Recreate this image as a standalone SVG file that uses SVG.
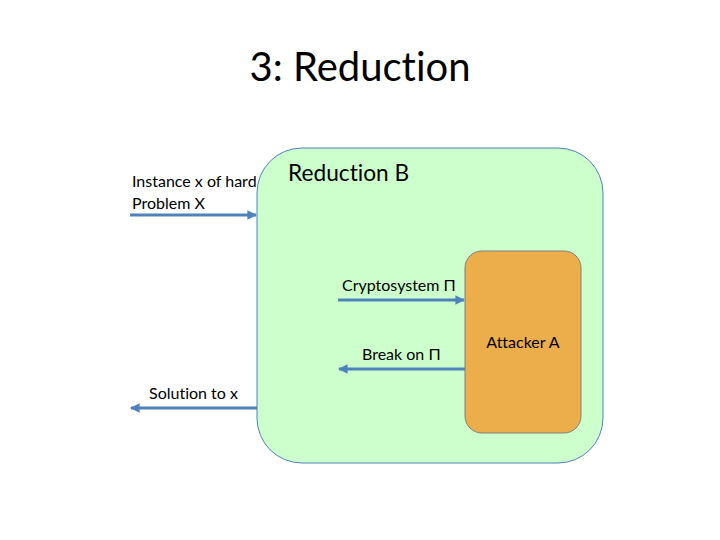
<svg xmlns="http://www.w3.org/2000/svg" width="720" height="540" viewBox="0 0 720 540">
<defs>
<style>
text{font-family:Lato,"Open Sans","Liberation Sans",sans-serif;fill:#000;font-variant-ligatures:none}
.lbl{font-size:16px}
.conn{stroke:#4F81BD;stroke-width:3;fill:none}
</style>
<marker id="ah" viewBox="0 0 10 10" refX="9" refY="5" markerWidth="3.2" markerHeight="3.2" orient="auto" markerUnits="strokeWidth">
<path d="M0,0 L10,5 L0,10 Z" fill="#4F81BD"/>
</marker>
</defs>
<rect width="720" height="540" fill="#fff"/>
<text x="360" y="81" font-size="40" text-anchor="middle">3: Reduction</text>
<g id="reduction">
<rect x="257" y="148" width="346" height="315" rx="45" ry="45" fill="#CCFFCC" stroke="#4F81BD" stroke-width="1"/>
<text x="288" y="181" font-size="22.7">Reduction B</text>
</g>
<g id="attacker">
<rect x="465" y="251" width="116" height="182" rx="17" ry="17" fill="#ECAE4B" stroke="#7F7F7F" stroke-width="1"/>
<text x="523" y="348" class="lbl" text-anchor="middle">Attacker A</text>
</g>
<g id="connectors">
<line class="conn" x1="130" y1="215" x2="256" y2="215" marker-end="url(#ah)"/>
<line class="conn" x1="338" y1="300" x2="464" y2="300" marker-end="url(#ah)"/>
<line class="conn" x1="465" y1="369" x2="339" y2="369" marker-end="url(#ah)"/>
<line class="conn" x1="257" y1="408" x2="131" y2="408" marker-end="url(#ah)"/>
</g>
<g id="labels">
<text x="132" y="187" class="lbl">Instance x of hard</text>
<text x="132" y="209" class="lbl">Problem X</text>
<text x="342" y="291" class="lbl">Cryptosystem Π</text>
<text x="362" y="360" class="lbl">Break on Π</text>
<text x="149" y="399" class="lbl">Solution to x</text>
</g>
</svg>
